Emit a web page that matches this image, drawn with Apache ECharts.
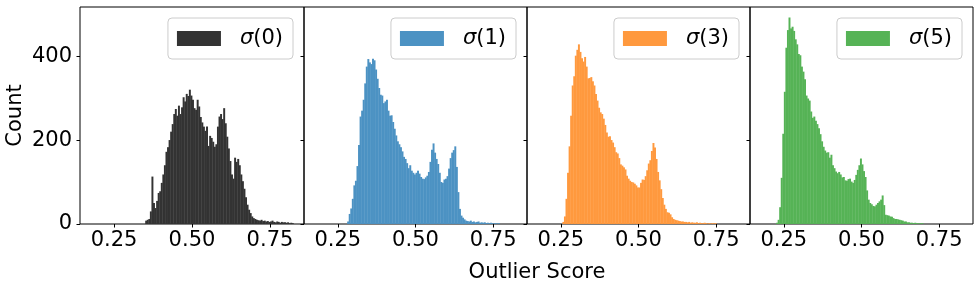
<!DOCTYPE html>
<html>
<head>
<meta charset="utf-8">
<script src="https://cdn.jsdelivr.net/npm/echarts@6/dist/echarts.min.js"></script>
<style>html,body{margin:0;padding:0;background:#fff}#c{width:980px;height:292px}</style>
</head>
<body>
<div id="c"></div>
<script>
// ---- data ----
const seriesNames = ['σ(0)', 'σ(1)', 'σ(3)', 'σ(5)'];
const binWidth = 0.005;
const binStarts = [0.350, 0.280, 0.255, 0.225];
const counts0 = [8,10,12,30,113,50,38,55,74,78,98,118,140,172,183,200,220,238,262,274,258,282,262,278,302,292,310,305,320,306,296,276,272,296,280,255,242,232,222,232,186,210,205,196,184,190,232,256,262,250,276,240,208,180,150,118,108,158,148,155,140,118,102,84,64,46,34,26,18,14,12,10,9,8,10,7,8,6,7,5,6,8,5,4,6,5,3,5,4,4,3,4,2,3,2];
const counts1 = [6,24,37,60,92,103,138,188,256,270,296,335,375,393,385,381,394,390,368,346,324,308,306,288,292,296,270,258,259,243,227,211,197,190,183,173,160,155,145,133,140,127,122,118,122,127,120,112,108,107,111,115,124,148,177,192,170,155,143,122,100,98,106,108,114,132,157,170,176,185,136,76,36,20,15,11,8,7,6,8,5,6,4,5,6,3,4,3,4,2,3,2,3,2,1,2,1,2];
const counts3 = [5,18,60,122,185,258,330,352,401,415,428,410,395,387,398,375,347,348,350,340,330,310,294,277,266,262,251,236,218,208,209,200,194,183,171,168,157,142,139,135,130,115,108,103,100,99,96,92,87,87,98,106,105,114,128,144,152,174,193,182,155,124,104,83,62,46,36,28,27,23,16,12,10,9,8,7,6,6,5,5,4,5,3,4,3,3,4,2,3,2,2,3,2,1,2,1,2,1,2];
const counts5 = [3,10,40,110,215,315,420,462,492,466,470,460,440,428,405,402,375,363,345,306,299,294,268,253,256,246,238,228,214,197,184,175,170,171,158,165,140,133,125,121,124,118,111,112,104,103,107,108,101,98,105,117,129,140,156,142,126,112,80,58,50,47,43,42,46,50,54,58,68,45,22,21,20,18,17,14,12,12,11,10,9,8,6,6,4,4,3,3,2,3,2,2,1,2,1];
const allCounts = [counts0, counts1, counts3, counts5];
const colors = ['#333333', '#4c92c3', '#ff993e', '#56b356'];
const xTicks = [0.25, 0.50, 0.75];
const yTicks = [0, 200, 400];
const xRange = [0.141, 0.859];
const yRange = [0, 517];

// ---- layout ----
const gridLefts = [80, 304, 527, 750];
const gridRights = [304, 527, 750, 973];
const legendRights = [293, 516, 739, 962];
const FONT = 'DejaVu Sans';

const grids = [], xAxes = [], yAxes = [], series = [], legends = [];
for (let k = 0; k < 4; k++) {
  grids.push({
    left: gridLefts[k], top: 7, width: gridRights[k] - gridLefts[k], height: 217,
    show: true, borderColor: '#000', borderWidth: 1, backgroundColor: 'transparent',
    containLabel: false
  });
  xAxes.push({
    type: 'value', gridIndex: k, min: xRange[0], max: xRange[1],
    axisLine: { show: false },
    splitLine: { show: false },
    axisTick: { show: true, customValues: xTicks, length: 3.5, lineStyle: { color: '#000', width: 1 } },
    axisLabel: { show: true, customValues: xTicks, margin: 6, fontFamily: FONT, fontSize: 21, color: '#000',
      formatter: v => v.toFixed(2) }
  });
  yAxes.push({
    type: 'value', gridIndex: k, min: yRange[0], max: yRange[1],
    axisLine: { show: false },
    splitLine: { show: false },
    axisTick: { show: true, customValues: yTicks, length: 3.5, lineStyle: { color: '#000', width: 1 } },
    axisLabel: { show: k === 0, customValues: yTicks, margin: 8, fontFamily: FONT, fontSize: 21, color: '#000' }
  });
  const counts = allCounts[k];
  const start = binStarts[k];
  const color = colors[k];
  series.push({
    type: 'custom', name: seriesNames[k], xAxisIndex: k, yAxisIndex: k,
    itemStyle: { color: color },
    clip: true,
    encode: { x: [0, 1], y: 2 },
    data: counts.map((c, i) => [start + i * binWidth, start + (i + 1) * binWidth, c]),
    renderItem: function (params, api) {
      const p0 = api.coord([api.value(0), 0]);
      const p1 = api.coord([api.value(1), api.value(2)]);
      return {
        type: 'rect',
        shape: { x: p0[0], y: p1[1], width: p1[0] - p0[0] + 0.4, height: p0[1] - p1[1] },
        style: { fill: color }
      };
    }
  });
  legends.push({
    data: [seriesNames[k]], right: 980 - legendRights[k], top: 18,
    icon: 'rect', itemWidth: 44, itemHeight: 15, itemGap: 0,
    padding: [9, 10, 9, 9],
    borderColor: '#cccccc', borderWidth: 1, borderRadius: 4,
    backgroundColor: 'rgba(255,255,255,0.8)',
    selectedMode: false,
    formatter: name => '{s|}{i|σ}{n|' + name.slice(1) + '}',
    textStyle: {
      fontFamily: FONT, fontSize: 21, color: '#000', lineHeight: 23,
      rich: {
        s: { width: 14 },
        i: { fontFamily: FONT, fontSize: 21, fontStyle: 'italic', color: '#000', lineHeight: 23 },
        n: { fontFamily: FONT, fontSize: 21, color: '#000', lineHeight: 23 }
      }
    }
  });
}

const chart = echarts.init(document.getElementById('c'), null, { renderer: 'canvas' });
chart.setOption({
  animation: false,
  backgroundColor: '#fff',
  grid: grids, xAxis: xAxes, yAxis: yAxes, series: series, legend: legends,
  graphic: [
    { type: 'text', x: 16, y: 115.5, rotation: Math.PI / 2,
      style: { text: 'Count', fontFamily: FONT, fontSize: 21, fill: '#000', align: 'center', verticalAlign: 'middle' } },
    { type: 'text', x: 537, y: 273,
      style: { text: 'Outlier Score', fontFamily: FONT, fontSize: 21, fill: '#000', align: 'center', verticalAlign: 'middle' } }
  ]
});
</script>
</body>
</html>
